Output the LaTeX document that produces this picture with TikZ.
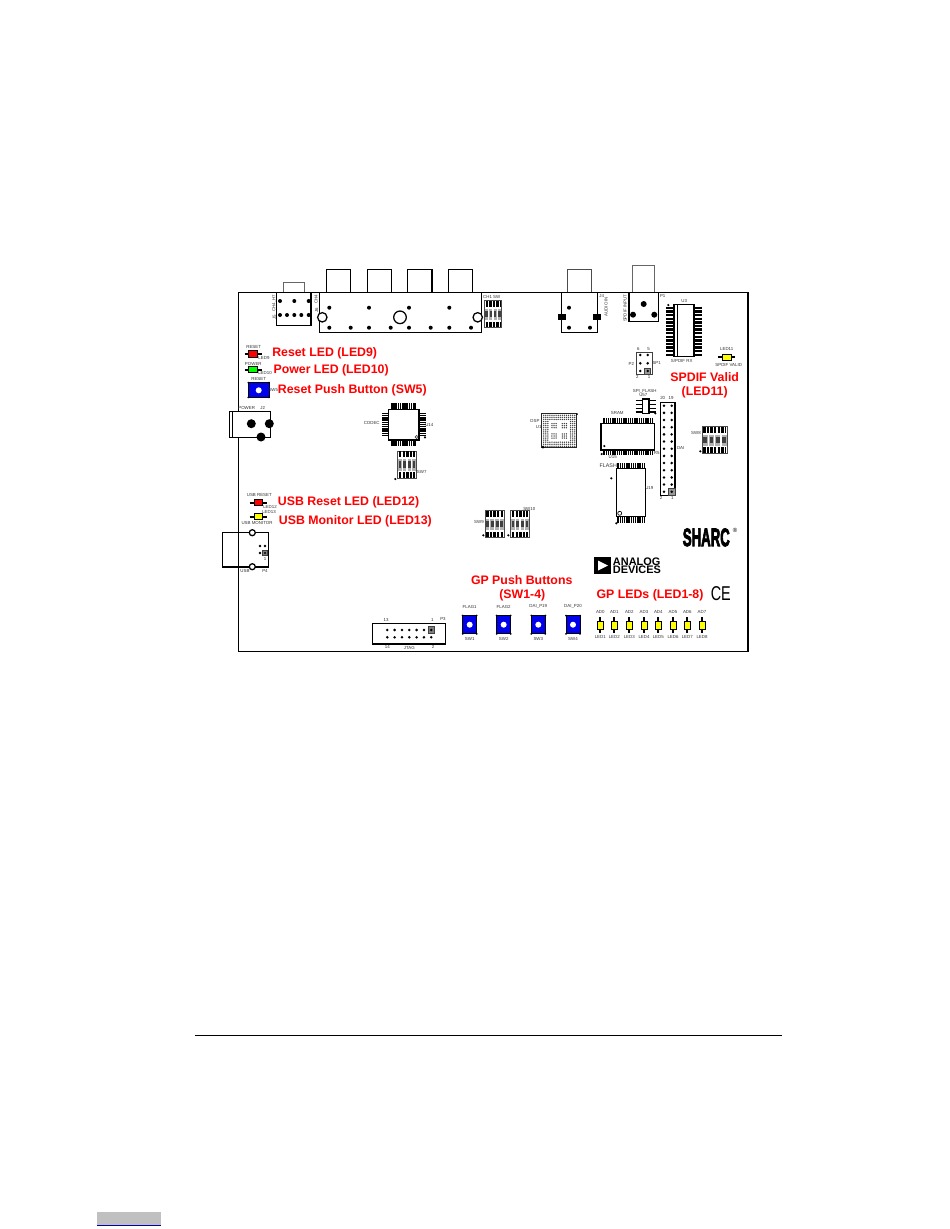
\documentclass[tikz,border=0pt]{standalone}
\usepackage{fontspec}
\setmainfont{Liberation Sans}
\newfontfamily\sharcfont[BoldFeatures={FakeBold=4}]{Liberation Sans}
\definecolor{ledred}{RGB}{255,0,0}
\definecolor{ledgreen}{RGB}{0,255,0}
\definecolor{ledyellow}{RGB}{255,255,0}
\definecolor{btnblue}{RGB}{0,0,235}
\definecolor{pagegray}{RGB}{192,192,192}
\tikzset{
  part/.style = {line width=0.95pt},
  thinpart/.style = {line width=0.45pt, black!75},
  pinrow/.style = {line width=#1, dash pattern=on 1.15pt off .5pt},
  widepinrow/.style = {line width=#1, dash pattern=on 1.8pt off .9pt},
  tag/.style = {font=\fontsize{3.3}{4}\selectfont, inner sep=0pt, black!80},
  callout/.style = {font=\fontsize{9.25}{11}\selectfont\bfseries, text=ledred, inner sep=0pt},
}
\newcommand{\hled}[3]{% x, y, colour
  \draw [line width=1.5pt, line cap=butt] (#1-8.7,#2) -- (#1+8.7,#2);
  \draw [line width=0.7pt, fill=#3] (#1-4.3,#2-3.2) rectangle (#1+4.3,#2+3.2);
}
\newcommand{\vled}[2]{% x, y
  \draw [line width=1.5pt] (#1,#2-7.7) -- (#1,#2+7.7);
  \draw [line width=0.7pt, fill=ledyellow] (#1-3,#2-4) rectangle (#1+3,#2+4);
}
\newcommand{\pushbtn}[4]{% centre x, centre y, half width, half height
  \draw [line width=0.7pt, fill=btnblue] (#1-#3,#2-#4) rectangle (#1+#3,#2+#4);
  \fill [white] (#1,#2) circle (3);
  \foreach \sx/\sy in {-1/-1,1/-1,-1/1,1/1}
    \fill (#1+\sx*#3,#2+\sy*#4) circle (1);
}
\newcommand{\dipsw}[4]{% left, top, width, height
  \begin{scope}[shift={(#1,#2)}]
    \draw [line width=0.7pt, black!70] (0,0) rectangle (#3,#4);
    \draw [widepinrow=4.2pt] (1.2,3.2) -- (#3-1,3.2);
    \draw [widepinrow=4.2pt] (1.2,#4-3.2) -- (#3-1,#4-3.2);
    \foreach \k in {0,1,2,3} {
      \fill [black!30] ({(\k+.12)*#3/4},.3*#4) rectangle ({(\k+.88)*#3/4},.72*#4);
      \fill [black!75] ({(\k+.2)*#3/4},.38*#4) rectangle ({(\k+.8)*#3/4},.62*#4);
    }
  \end{scope}
}
\begin{document}
\begin{tikzpicture}[x=0.75pt, y=-0.75pt]
\useasboundingbox (0,0) rectangle (950,1229);

\draw [part] (238.7,411.3) -- (238.7,292.7) -- (748,292.7) -- (748,651.7) -- (238.7,651.7) -- (238.7,437.3);

% rear connectors
\foreach \px in {326.3,367.3,407.7,448.3}
  \draw [part] (\px,269.3) rectangle (\px+24.4,292.7);
\draw [part, black!60] (283.7,282.3) rectangle (304.3,292.7);
\draw [part] (276.7,292.7) rectangle (311,325.3);
\draw [part] (319.3,292.7) rectangle (481.7,332.3);
\foreach \px in {322.3,477.7}
  \draw [part, fill=white] (\px,317.3) circle (4.7);
\draw [part] (400,317.3) circle (6.3);
\foreach \px in {329.3,369,409,449.3}
  \fill (\px,307.7) circle (2);
\foreach \px in {329.3,350.7,369,390.7,409,430.7,449.3,471}
  \fill (\px,327.7) circle (2);
\foreach \px in {280,294.3,308.7}
  \fill (\px,301) circle (2);
\foreach \px in {280,287,294.3,301.3,308.7}
  \fill (\px,315) circle (2);
\node [tag, rotate=90] (lblHseven) at (274.3,303) {CH4\_H7};
\node [tag, rotate=90] (lblJfive) at (274.3,317) {J5};
\node [tag, rotate=90] (lblChfour) at (316,299.3) {CH4};
\node [tag, rotate=90] (lblJsix) at (316.5,310) {J6};
\node [tag] (lblChone) at (491.7,296.7) {CH1 SW};
\dipsw{484.3}{300.7}{17.4}{27}

\draw [part, black!70] (567.3,292.7) -- (567.3,269.3) -- (591.7,269.3) -- (591.7,292.7);
\draw [part] (561.7,292.7) rectangle (597.7,332.3);
\fill (557.7,314.3) rectangle (566,320);
\fill (592.7,314.3) rectangle (601,320);
\foreach \px/\py in {569/307.7,569/327.7,590/327.7}
  \fill (\px,\py) circle (2);
\node [tag, rotate=90] (lblAudio) at (606,306.7) {AUDIO IN};
\node [tag] (lblJfour) at (601.7,295.7) {J4};

\draw [part, black!60] (632.3,292.7) -- (632.3,265.7) -- (654.7,265.7) -- (654.7,292.7);
\draw [part] (629,292.7) rectangle (658.3,321.7);
\fill (643.7,304) circle (3);
\fill (633,314.7) circle (3);
\fill (654.3,314.7) circle (3);
\node [tag, rotate=90] (lblSpdif) at (625,308.3) {SPDIF INPUT};
\node [tag] (lblPone) at (662.7,296) {P1};

% status LEDs
\hled{253.2}{354}{ledred}
\hled{253.2}{369.7}{ledgreen}
\hled{258.4}{502.7}{ledred}
\hled{258.4}{516.7}{ledyellow}
\hled{726.7}{357.3}{ledyellow}
\node [tag] (lblLedreset) at (253.7,347) {RESET};
\node [tag] (lblLednine) at (264,358.3) {LED9};
\node [tag] (lblLedpower) at (253.3,363.7) {POWER};
\node [tag] (lblLedten) at (265,373.3) {LED10};
\node [tag] (lblUsbreset) at (259.3,495) {USB RESET};
\node [tag] (lblLedtwelve) at (270,507) {LED12};
\node [tag] (lblLedthirteen) at (269,512.3) {LED13};
\node [tag] (lblUsbmon) at (257,523.3) {USB MONITOR};
\node [tag] (lblLedeleven) at (726.7,349) {LED11};
\node [tag] (lblValid) at (728.7,364.7) {SPDIF VALID};

\draw [line width=0.7pt, fill=btnblue] (248.3,382.7) rectangle (269,397.3);
\fill [white] (258.7,390.3) circle (3);
\foreach \px/\py in {248.3/382.7,269/382.7,248.3/397.3,269/397.3}
  \fill (\px,\py) circle (1);
\node [tag] (lblBtnreset) at (258.7,379) {RESET};
\node [tag] (lblSwfive) at (273.3,390.3) {SW5};

% power jack
\draw [part] (229.3,411.3) rectangle (270.7,437.3);
\draw [part] (232.7,411.3) -- (232.7,437.3);
\fill (251.3,423.7) circle (4.5);
\fill (269.3,423.7) circle (4.5);
\fill (261,437) circle (4.5);
\node [tag] (lblPower) at (246.7,408.3) {POWER};
\node [tag] (lblJtwo) at (262.7,407.7) {J2};

% codec
\draw [pinrow=4.5pt] (391,406.2) -- (416,406.2);
\draw [pinrow=4.5pt] (391,443.2) -- (416,443.2);
\draw [pinrow=4.5pt] (384.8,412.7) -- (384.8,436.7);
\draw [pinrow=4.5pt] (422.5,412.7) -- (422.5,436.7);
\draw [part, fill=white] (388.3,409.3) rectangle (419,440);
\fill (425,437.3) circle (1.2);
\draw [thinpart] (416.7,437) circle (1.6);
\node [tag] (lblCodec) at (371.7,423.3) {CODEC};
\node [tag] (lblUfourteen) at (429.3,425) {U14};
\dipsw{397.7}{451}{18.6}{27.3}
\fill (395.3,479) circle (1.2);
\node [tag] (lblSwseven) at (421.7,472) {SW7};

% usb
\draw [part] (222.7,532.3) rectangle (268.7,567);
\draw [part, fill=white] (252.3,532.7) circle (3);
\draw [part, fill=white] (252.3,566.7) circle (3);
\foreach \px/\py in {260/546,265/546,260/553}
  \fill (\px,\py) circle (1.4);
\draw [thinpart, fill=black!50] (262.5,550.5) rectangle (267.5,555.5);
\fill (265,553) circle (1.2);
\node [tag] (lblUsbone) at (265,558.7) {1};
\node [tag] (lblUsb) at (245,571.3) {USB};
\node [tag] (lblPfour) at (265,571.3) {P4};

% jtag
\draw [part] (372.3,623.3) rectangle (445.7,644);
\draw [thinpart, fill=black!50] (428,626.7) rectangle (434.7,633.3);
\foreach \n in {0,...,6} {
  \fill (387.3+\n*7.33,630) circle (1.4);
  \fill (387.3+\n*7.33,637.3) circle (1.4);
}
\node [tag] (lblJthirteen) at (386,620.3) {13};
\node [tag] (lblJone) at (432.3,620.3) {1};
\node [tag] (lblPthree) at (443,619) {P3};
\node [tag] (lblJfourteen) at (387.3,647) {14};
\node [tag] (lblJtag) at (409.3,647.7) {JTAG};
\node [tag] (lblJzwei) at (433,647) {2};

% switches
\dipsw{485}{510.7}{19.3}{27}
\fill (483.3,535.3) circle (1.2);
\node [tag] (lblSwnine) at (479,522) {SW9};
\dipsw{510.7}{510.7}{18.6}{27}
\fill (508.3,535.3) circle (1.2);
\node [tag] (lblSwten) at (529.3,508.7) {SW10};
\dipsw{702}{426.7}{25.3}{26.6}
\fill (700.3,451.3) circle (1.2);
\node [tag] (lblSweight) at (696,432.7) {SW8};

% gp buttons and leds
\foreach \px/\i/\txt in {469.7/1/FLAG1,503.7/2/FLAG2,538.3/3/DAI\_P19,573/4/DAI\_P20} {
  \pushbtn{\px}{624.7}{7}{9.2}
  \node [tag] (lblFlag\i) at (\px,606.7) {\txt};
  \node [tag] (lblSw\i) at (\px,638.7) {SW\i};
}
\foreach \px/\i [evaluate=\i as \j using int(\i+1)] in {600.3/0,614.3/1,629.3/2,644/3,658.3/4,673/5,687.3/6,702/7} {
  \vled{\px}{625}
  \node [tag] (lblAd\i) at (\px,612.3) {AD\i};
  \node [tag] (lblGpled\i) at (\px,636.7) {LED\j};
}

% right side parts
\draw [widepinrow=7.3pt] (671,306.7) -- (671,355.5);
\draw [widepinrow=7.3pt] (697,306.7) -- (697,355.5);
\draw [part, fill=white] (674,304.3) rectangle (694,356.7);
\draw [line width=0.6pt] (677.3,304.3) -- (677.3,356.7);
\fill (668.3,305) circle (1.2);
\node [tag] (lblUthree) at (684.3,301) {U3};
\node [tag] (lblRx) at (681.7,361.3) {S/PDIF RX};

\draw [thinpart, line width=0.6pt] (636.3,352.3) rectangle (652,374);
\draw [thinpart, fill=black!40] (644.7,368) rectangle (650.7,374);
\foreach \px/\py in {640.3/355,647.7/355,640.3/363.3,647.7/363.3,640.3/371,647.7/371}
  \fill (\px,\py) circle (1.4);
\node [tag] (lblSix) at (638.3,349.3) {6};
\node [tag] (lblFive) at (648.7,349.3) {5};
\node [tag] (lblPtwo) at (631.3,364) {P2};
\node [tag] (lblSpone) at (656.7,363.3) {SP1};
\node [tag] (lblTwo) at (637.3,377.3) {2};
\node [tag] (lblOne) at (649,377.3) {1};

\foreach \py in {400.7,404.7,408.3,412} {
  \draw [line width=1.1pt] (635.7,\py) -- (655.7,\py);
}
\draw [part, fill=white] (642.3,399) rectangle (649,413.3);
\fill (655.3,413.3) circle (1.2);
\node [tag] (lblSpiflash) at (644.7,391.3) {SPI\_FLASH};
\node [tag] (lblUspi) at (643.3,395.3) {U57};

\foreach \c in {0,...,15}
  \foreach \r in {0,...,15} {
    \pgfmathtruncatemacro{\keep}{(\c<3 || \c>12 || \r<3 || \r>12 || ((\c>3 && \c<7 || \c>8 && \c<12) && (\r>3 && \r<7 || \r>8 && \r<12))) ? 1 : 0}
    \ifnum\keep=1
      \fill [black!75] (543.7+\c*2.07,415.3+\r*2.07) circle (0.75);
    \fi
  }
\draw [line width=1pt, black!85] (541.7,413.3) rectangle (576.7,447.7);
\fill (543,447) circle (1.5);
\fill (577,414) circle (1);
\node [tag] (lblDsp) at (535,420.7) {DSP};
\node [tag] (lblUone) at (538.7,427.3) {U1};

\draw [pinrow=4.2pt] (603.3,421.1) -- (652.7,421.1);
\draw [pinrow=4.2pt] (603.3,452.4) -- (652.7,452.4);
\draw [part, fill=white] (601,423.3) rectangle (654.3,450);
\fill (604.3,446) circle (1.2);
\fill (601.7,454) circle (1.2);
\node [tag] (lblSram) at (617.3,413.3) {SRAM};
\node [tag] (lblUfifteen) at (612.7,457) {U15};
\node [tag] (lblRfive) at (656.7,452.7) {R5};

\draw [part] (660.7,402.3) rectangle (675,495.7);
\draw [thinpart, fill=black!40] (668.2,488.2) rectangle (675,495.2);
\foreach \n in {0,...,12} {
  \fill (664,405.7+\n*7.17) circle (1.4);
  \fill (671.7,405.7+\n*7.17) circle (1.4);
}
\node [tag] (lblTwenty) at (662.7,398.3) {20};
\node [tag] (lblNineteen) at (671,398.3) {19};
\node [tag] (lblHtwo) at (661,498.3) {2};
\node [tag] (lblHone) at (672.3,498.3) {1};
\node [tag] (lblDai) at (680.7,447.7) {DAI};

\draw [pinrow=4.5pt] (617.3,465.5) -- (644,465.5);
\draw [pinrow=4.5pt] (617.3,519.7) -- (644,519.7);
\draw [part, fill=white] (616.3,468.3) rectangle (645.3,516.7);
\fill (611.3,478.3) circle (1.2);
\draw [line width=0.5pt] (619.7,513.3) circle (2);
\fill (616.3,523.3) circle (1.2);
\node [tag, font=\fontsize{4}{5}\selectfont] (lblFlash) at (608.3,465.7) {FLASH};
\node [tag] (lblUnineteen) at (649.3,488.3) {U19};

% logos
\node [font=\sharcfont\bfseries, inner sep=0pt, xscale=.9, yscale=1.72] (logoSharc) at (706.3,537.4) {\fontsize{11}{11}\selectfont SHARC};
\node [tag, font=\fontsize{4.5}{5}\selectfont, text=black] (logoReg) at (735,530.5) {®};
\fill (594.3,557.3) rectangle (610.7,573.7);
\fill [white] (598,560.5) -- (598,570.5) -- (608,565.5) -- cycle;
\node [font=\fontsize{8.2}{8.2}\selectfont\bfseries, inner sep=0pt, anchor=west] (logoAnalog) at (612.7,561.4) {ANALOG};
\node [font=\fontsize{8.2}{8.2}\selectfont\bfseries, inner sep=0pt, anchor=west] (logoDevices) at (612.7,570) {DEVICES};
\node [font=\fontsize{15}{15}\selectfont, inner sep=0pt, xscale=.72] (logoCe) at (720.8,593.7) {CE};

% callouts
\node [callout, anchor=west] (txtReset) at (272,353.3) {Reset LED (LED9)};
\node [callout, anchor=west] (txtPower) at (273.3,370.7) {Power LED (LED10)};
\node [callout, anchor=west] (txtButton) at (277.7,390) {Reset Push Button (SW5)};
\node [callout, anchor=west] (txtUsbreset) at (277.7,502.7) {USB Reset LED (LED12)};
\node [callout, anchor=west] (txtUsbmon) at (278.7,521) {USB Monitor LED (LED13)};
\node [callout] (txtValid) at (704.7,377) {SPDIF Valid};
\node [callout] (txtValidled) at (704.7,392) {(LED11)};
\node [callout] (txtGpbtn) at (521.7,580) {GP Push Buttons};
\node [callout] (txtGpsw) at (522.3,595) {(SW1-4)};
\node [callout, anchor=west] (txtGpled) at (596.3,595) {GP LEDs (LED1-8)};

% page furniture
\draw [line width=0.9pt] (195,1035.5) -- (782,1035.5);
\fill [pagegray] (97,1212) rectangle (161,1225);
\draw [line width=0.8pt, btnblue!70!black] (97,1225.3) -- (161,1225.3);
\end{tikzpicture}
\end{document}
